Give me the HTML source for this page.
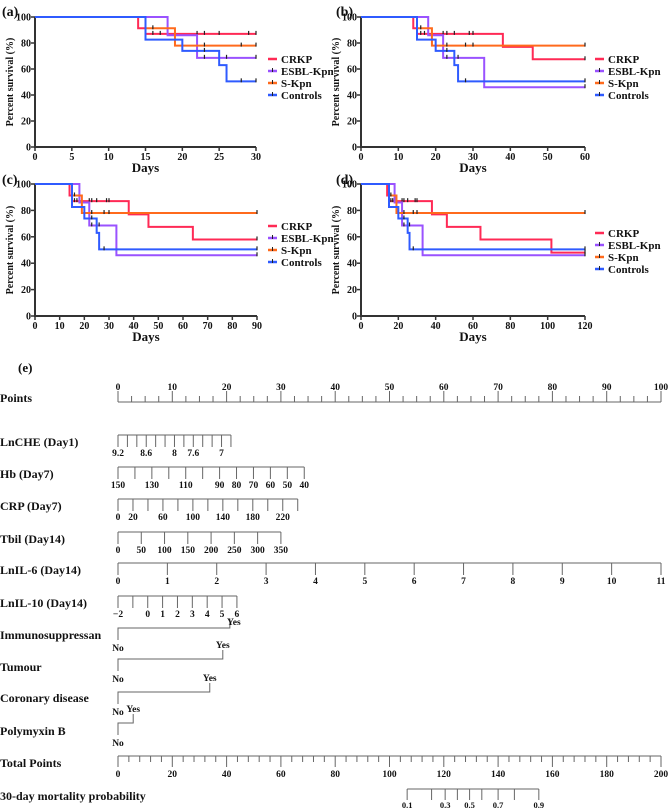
<!DOCTYPE html>
<html><head><meta charset="utf-8"><title>Survival curves and 30-day mortality nomogram</title>
<style>
html,body{margin:0;padding:0;background:#fff;width:669px;height:809px;overflow:hidden}
svg{display:block;font-family:"Liberation Serif",serif}
</style></head>
<body>
<svg id="fig" width="669" height="809" viewBox="0 0 669 809"></svg>
<script>
// ---- Kaplan-Meier data ----
const groupNames = ["CRKP","ESBL-Kpn","S-Kpn","Controls"];
const crkpTimes = [0,14,15,38,46,64,102];
const crkpSurv = [100,91.3,87,77,67.5,58,48];
const crkpCensor = [16,17,22,23,25,29,30];
const esblTimes = [0,18,22,33];
const esblSurv = [100,86,68.6,46];
const esblCensor = [23,26];
const skpnTimes = [0,15,19];
const skpnSurv = [100,91.3,78];
const skpnCensor = [16,23,28,30];
const ctrlTimes = [0,15,20,25,26];
const ctrlSurv = [100,82.6,73.9,63,50.5];
const ctrlCensor = [23,28];
const yTicks = [0,20,40,60,80,100];
const panelMaxDays = [30,60,90,120];
const panelTickStep = [5,10,10,20];
const panelLetters = ["(a)","(b)","(c)","(d)"];

// ---- Nomogram data ----
const pointsTicks = [0,10,20,30,40,50,60,70,80,90,100];
const totalTicks = [0,20,40,60,80,100,120,140,160,180,200];
const cheTicks = [9.2,9.0,8.8,8.6,8.4,8.2,8.0,7.8,7.6,7.4,7.2,7.0,6.8];
const cheLabels = [9.2,8.6,8,7.6,7];
const hbTicks = [150,140,130,120,110,100,90,80,70,60,50,40];
const hbLabels = [150,130,110,90,80,70,60,50,40];
const crpTicks = [0,20,40,60,80,100,120,140,160,180,200,220,240];
const crpLabels = [0,20,60,100,140,180,220];
const tbilTicks = [0,50,100,150,200,250,300,350];
const il6Ticks = [0,1,2,3,4,5,6,7,8,9,10,11];
const il10Ticks = [-2,-1,0,1,2,3,4,5,6];
const il10Labels = [-2,0,1,2,3,4,5,6];
const binaryNames = ["Immunosuppressan","Tumour","Coronary disease","Polymyxin B"];
const binaryYesPoints = [20.6,19.3,16.9,2.8];
const probTicks = [0.1,0.2,0.3,0.4,0.5,0.6,0.7,0.8,0.9];
const probLabels = [0.1,0.3,0.5,0.7,0.9];
const probTotalPoints = [106.5,115.5,120.5,125,129.5,134,140,146,155];

const NS="http://www.w3.org/2000/svg";
const svg=document.getElementById('fig');
function mk(tag,attrs,parent){const e=document.createElementNS(NS,tag);for(const k in attrs)e.setAttribute(k,attrs[k]);(parent||svg).appendChild(e);return e;}
function txt(s,x,y,size,anchor,parent,weight){const t=mk('text',{x:x,y:y,'font-size':size,'text-anchor':anchor||'start','font-weight':weight||'bold',fill:'#111'},parent);t.textContent=s;return t;}

const colors=["#ff2a55","#9a52ff","#ff6a1c","#2f5bff"];
const series=[
 {t:crkpTimes,s:crkpSurv,c:crkpCensor},
 {t:esblTimes,s:esblSurv,c:esblCensor},
 {t:skpnTimes,s:skpnSurv,c:skpnCensor},
 {t:ctrlTimes,s:ctrlSurv,c:ctrlCensor}];
const panels=[
 {x0:35,x1:256,yT:17,yB:147,lx:268,ly:59,lab:[2,8]},
 {x0:361,x1:585,yT:17,yB:147,lx:595,ly:59,lab:[336,8]},
 {x0:35,x1:257,yT:184,yB:316,lx:268,ly:226,lab:[2,176]},
 {x0:361,x1:585,yT:184,yB:316,lx:595,ly:233,lab:[336,176]}];

function survAt(se,t){let v=se.s[0];for(let i=0;i<se.t.length;i++){if(se.t[i]<=t)v=se.s[i];}return v;}

panels.forEach((p,pi)=>{
 const g=mk('g',{});
 
 
 const maxD=panelMaxDays[pi];
 const X=d=>p.x0+(p.x1-p.x0)*d/maxD;
 const Y=v=>p.yB-(p.yB-p.yT)*v/100;
 const pl=txt(panelLetters[pi],p.lab[0],p.lab[1]+8,14,'start',g);
 
 
 // y axis
 const ya=mk('line',{x1:p.x0,y1:p.yT,x2:p.x0,y2:p.yB,stroke:'#333','stroke-width':2},g);
 
 
 yTicks.forEach(v=>{
  mk('line',{x1:p.x0-4,y1:Y(v),x2:p.x0,y2:Y(v),stroke:'#333','stroke-width':1.5},g);
  const t=txt(String(v),p.x0-4,Y(v)+3.5,10,'end',g);
  
  
 });
 const xa=mk('line',{x1:p.x0-1,y1:p.yB,x2:p.x1,y2:p.yB,stroke:'#333','stroke-width':2},g);
 
 
 for(let d=0;d<=maxD;d+=panelTickStep[pi]){
  mk('line',{x1:X(d),y1:p.yB,x2:X(d),y2:p.yB+4,stroke:'#333','stroke-width':1.5},g);
  const t=txt(String(d),X(d),p.yB+13,10,'middle',g);
  
  
 }
 const yt=txt('Percent survival (%)',0,0,10,'middle',g);
 yt.setAttribute('transform','translate('+(p.x0-22)+','+((p.yT+p.yB)/2)+') rotate(-90)');
 
 
 const xt=txt('Days',(p.x0+p.x1)/2,p.yB+25,13,'middle',g);
 
 
 // curves
 series.forEach((se,si)=>{
  let d='M'+X(0)+','+Y(se.s[0]);
  for(let i=1;i<se.t.length;i++){if(se.t[i]>maxD)break;d+=' H'+X(se.t[i])+' V'+Y(se.s[i]);}
  d+=' H'+X(maxD);
  const path=mk('path',{d:d,fill:'none',stroke:colors[si],'stroke-width':2},g);
  
  
  const cens=se.c.filter(c=>c<maxD).concat([maxD]);
  cens.forEach(c=>{
   const m=mk('line',{x1:X(c),y1:Y(survAt(se,c))-3,x2:X(c),y2:Y(survAt(se,c))+1,stroke:'#222','stroke-width':1.2},g);
   
   
  });
 });
 // legend
 groupNames.forEach((n,si)=>{
  const ly=p.ly+si*12;
  const lg=mk('g',{},g);
  
  
  mk('line',{x1:p.lx,y1:ly,x2:p.lx+9,y2:ly,stroke:colors[si],'stroke-width':2.5},lg);
  if(si>0)mk('line',{x1:p.lx+4.5,y1:ly-3,x2:p.lx+4.5,y2:ly+1,stroke:'#222','stroke-width':1},lg);
  txt(n,p.lx+13,ly+4,11,'start',lg);
 });
});

// ---- Nomogram ----
const P0=118,P100=661;
const PX=pt=>P0+(P100-P0)*pt/100;
const el=txt('(e)',18,372,13,'start');


function rowLabel(s,y){const t=txt(s,0,y,12,'start');}
function scaleRow(name,lineY,textY,ticks,labels,v0,v1,p1){
 const g=mk('g',{});
 
 
 const xv=v=>PX((v-v0)/(v1-v0)*p1);
 mk('line',{x1:xv(ticks[0]),y1:lineY,x2:xv(ticks[ticks.length-1]),y2:lineY,stroke:'#666','stroke-width':1},g);
 ticks.forEach(v=>mk('line',{x1:xv(v),y1:lineY,x2:xv(v),y2:lineY+12,stroke:'#666','stroke-width':1},g));
 labels.forEach(v=>txt(v<0?'\u22122':String(v),xv(v),lineY+21,9.5,'middle',g));
}
// Points axis
rowLabel('Points',402);
(function(){
 const g=mk('g',{});
 
 
 mk('line',{x1:PX(0),y1:402,x2:PX(100),y2:402,stroke:'#666','stroke-width':1},g);
 for(let v=0;v<=100;v+=2.5){const major=v%10===0;mk('line',{x1:PX(v),y1:major?391:396,x2:PX(v),y2:402,stroke:'#666','stroke-width':1},g);}
 pointsTicks.forEach(v=>txt(String(v),PX(v),390,9.5,'middle',g));
})();
rowLabel('LnCHE (Day1)',446);
scaleRow('lnche-axis',435,446,cheTicks,cheLabels,9.2,6.8,20.8);
rowLabel('Hb (Day7)',478);
scaleRow('hb-axis',467,478,hbTicks,hbLabels,150,40,34.3);
rowLabel('CRP (Day7)',510);
scaleRow('crp-axis',499,510,crpTicks,crpLabels,0,240,33.1);
rowLabel('Tbil (Day14)',543);
scaleRow('tbil-axis',532,543,tbilTicks,tbilTicks,0,350,30);
rowLabel('LnIL-6 (Day14)',574);
scaleRow('lnil6-axis',563,574,il6Ticks,il6Ticks,0,11,100);
rowLabel('LnIL-10 (Day14)',607);
scaleRow('lnil10-axis',596,607,il10Ticks,il10Labels,-2,6,21.9);
// binary rows
const binLine=[628,659,692,723];
const binText=[639,671,702,735];
binaryNames.forEach((n,i)=>{
 rowLabel(n,binText[i]);
 const g=mk('g',{});
 
 
 const y=binLine[i],xe=PX(binaryYesPoints[i]);
 mk('path',{d:'M'+P0+','+(y+12)+' V'+y+' H'+xe+' V'+(y-9),fill:'none',stroke:'#666','stroke-width':1},g);
 txt('No',P0,y+23,9.5,'middle',g);
 txt('Yes',xe+(i===0?4:0),y-11+(i===0?8:0),9.5,'middle',g);
});
// Total points
rowLabel('Total Points',767);
(function(){
 const g=mk('g',{});
 
 
 const TX=v=>P0+(P100-P0)*v/200;
 mk('line',{x1:TX(0),y1:756,x2:TX(200),y2:756,stroke:'#666','stroke-width':1},g);
 for(let v=0;v<=200;v+=4){const major=v%20===0;mk('line',{x1:TX(v),y1:756,x2:TX(v),y2:major?767:762,stroke:'#666','stroke-width':1},g);}
 totalTicks.forEach(v=>txt(String(v),TX(v),777,9.5,'middle',g));
 rowLabel('30-day mortality probability',800);
 const pg=mk('g',{});
 
 
 mk('line',{x1:TX(probTotalPoints[0]),y1:789,x2:TX(probTotalPoints[probTotalPoints.length-1]),y2:789,stroke:'#666','stroke-width':1},pg);
 probTicks.forEach((v,i)=>mk('line',{x1:TX(probTotalPoints[i]),y1:789,x2:TX(probTotalPoints[i]),y2:800,stroke:'#666','stroke-width':1},pg));
 probLabels.forEach(v=>{const i=probTicks.indexOf(v);txt(String(v),TX(probTotalPoints[i]),808,8.5,'middle',pg);});
})();
</script>
</body></html>
